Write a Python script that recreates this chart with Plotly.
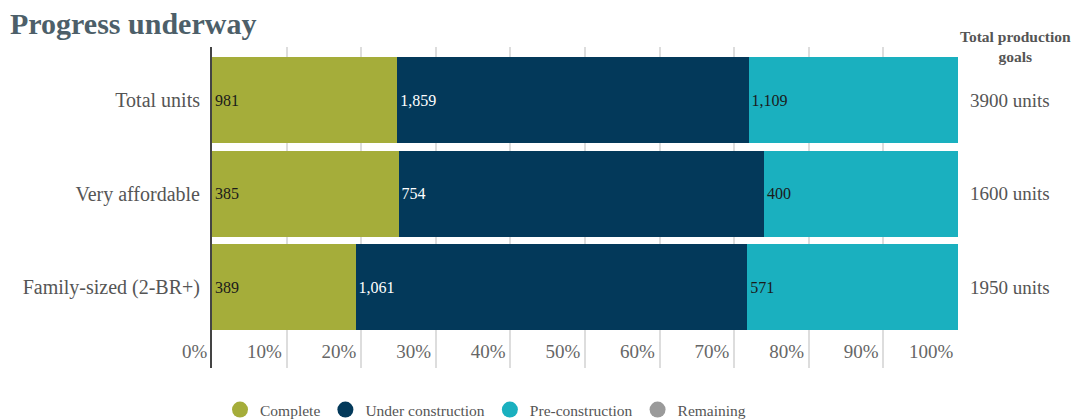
import plotly.graph_objects as go

categories = ["Total units", "Very affordable", "Family-sized (2-BR+)"]
complete = [981, 385, 389]
under_construction = [1859, 754, 1061]
pre_construction = [1109, 400, 571]
remaining = [0, 0, 0]
goals = [3900, 1600, 1950]
tick_vals = [0, 10, 20, 30, 40, 50, 60, 70, 80, 90, 100]
tick_text = [f"{v}%\u00a0" for v in tick_vals]

series = [
    ("Complete", complete, "#a5ad3a", "#1a1a1a"),
    ("Under construction", under_construction, "#03395a", "#ffffff"),
    ("Pre-construction", pre_construction, "#1ab0bf", "#1a1a1a"),
    ("Remaining", remaining, "#9a9a9a", "#1a1a1a"),
]

totals = [sum(s[1][i] for s in series) for i in range(len(categories))]
FONT = "Liberation Serif"

fig = go.Figure()
for name, vals, color, tcolor in series:
    pct = [100 * v / t for v, t in zip(vals, totals)]
    fig.add_trace(go.Bar(
        y=categories, x=pct, orientation="h", name=name,
        marker=dict(color=color, line=dict(width=0)),
        text=[f"{v:,}" if v > 0 else "" for v in vals],
        textposition="inside", insidetextanchor="start",
        textfont=dict(family=FONT, size=16, color=tcolor),
        showlegend=False, hoverinfo="skip",
    ))
    fig.add_trace(go.Scatter(
        x=[None], y=[None], mode="markers", name=name,
        marker=dict(symbol="circle", size=18, color=color),
        showlegend=True, hoverinfo="skip",
    ))

for cat, g in zip(categories, goals):
    fig.add_annotation(x=(1010 - 212) / 746, xref="paper", xanchor="center",
                       y=cat, yref="y", text=f"{g} units", showarrow=False,
                       font=dict(family=FONT, size=19, color="#555555"))

fig.add_annotation(x=(1015 - 212) / 746, xref="paper", xanchor="center",
                   y=(368 - 46) / 321, yref="paper", yanchor="middle", showarrow=False,
                   text="<b>Total production<br>goals</b>",
                   font=dict(family=FONT, size=15.5, color="#555555"))

fig.update_layout(
    width=1075, height=420,
    margin=dict(l=212, r=117, t=47, b=52, autoexpand=False),
    barmode="stack", bargap=0.08,
    plot_bgcolor="white", paper_bgcolor="white",
    title=dict(text="<b>Progress underway</b>", x=10 / 1075, xref="container",
               xanchor="left", y=1 - 23 / 420, yanchor="middle", yref="container",
               font=dict(family=FONT, size=30, color="#4d5f69")),
    font=dict(family=FONT, color="#555555"),
    legend=dict(orientation="h", x=(220 - 212) / 746, xanchor="left",
                y=-(410 - 368) / 321, yanchor="middle", itemsizing="trace",
                font=dict(family=FONT, size=15.5, color="#555555"),
                itemclick=False, traceorder="normal"),
    showlegend=True,
)
fig.update_xaxes(range=[0, 100], tickvals=tick_vals, ticktext=tick_text,
                 showgrid=True, gridcolor="#dddddd", gridwidth=1.5,
                 ticks="", ticklabelposition="inside left", ticklabeloverflow="allow",
                 tickfont=dict(family=FONT, size=19, color="#666666"),
                 zeroline=False, showline=False, fixedrange=True)
fig.update_yaxes(range=[2.866, -0.567], showgrid=False, ticks="",
                 tickfont=dict(family=FONT, size=20, color="#555555"),
                 showline=True, linecolor="#444444", linewidth=2,
                 ticklabelstandoff=6, zeroline=False, fixedrange=True)

fig.write_html("out.html")
